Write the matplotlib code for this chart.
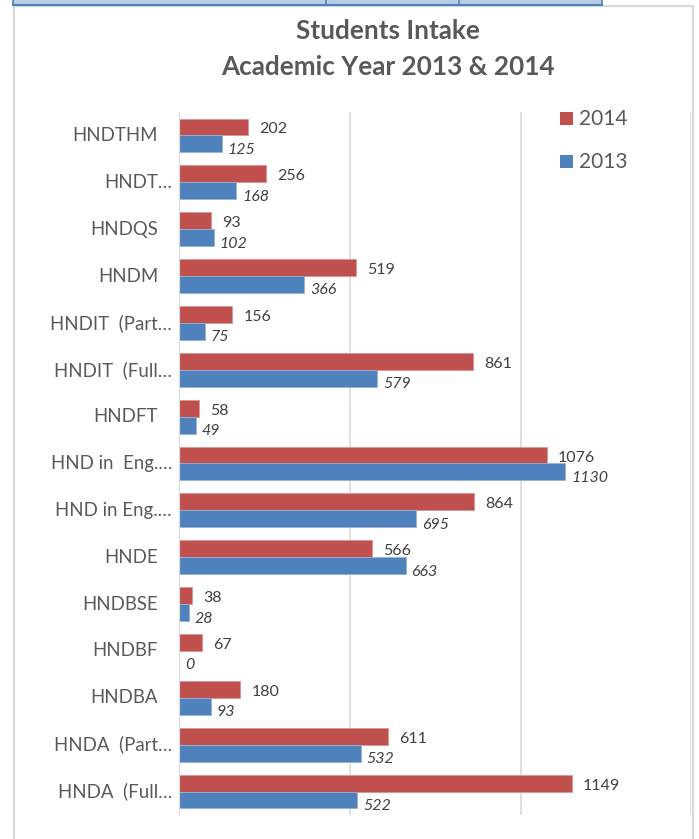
import matplotlib
matplotlib.use("Agg")
import matplotlib.pyplot as plt
import matplotlib.transforms as mtransforms
from matplotlib.patches import Rectangle
from matplotlib.lines import Line2D

# Data (bottom-to-top order as drawn)
categories = ["HNDA  (Full…", "HNDA  (Part…", "HNDBA", "HNDBF", "HNDBSE", "HNDE",
              "HND in Eng.…", "HND in  Eng.…", "HNDFT", "HNDIT  (Full…",
              "HNDIT  (Part…", "HNDM", "HNDQS", "HNDT…", "HNDTHM"]
truncated = [c.endswith("…") for c in categories]
values_2014 = [1149, 611, 180, 67, 38, 566, 864, 1076, 58, 861, 156, 519, 93, 256, 202]
values_2013 = [522, 532, 93, 0, 28, 663, 695, 1130, 49, 579, 75, 366, 102, 168, 125]
series_names = ["2014", "2013"]

RED = "#c0504d"
BLUE = "#4f81bd"
TXT = "#595959"
LBL = "#404040"
GRID = "#d9d9d9"

plt.rcParams['font.family'] = ['Lato', 'DejaVu Sans']

W, H = 699, 839
fig = plt.figure(figsize=(W / 100, H / 100), dpi=100)

# table fragment at top
fig.patches.append(Rectangle((13 / W, 1 - 4.5 / H), (602 - 13) / W, 4.5 / H,
                             transform=fig.transFigure, facecolor="#b8cce4",
                             edgecolor="none"))
fig.lines.append(Line2D([13 / W, 602 / W], [1 - 4.5 / H, 1 - 4.5 / H],
                        transform=fig.transFigure, color="#4f81bd", lw=1.5))
for xx in [13, 326, 459, 602]:
    fig.lines.append(Line2D([xx / W, xx / W], [1 - 4.5 / H, 1.0],
                            transform=fig.transFigure, color="#4f81bd", lw=1.2))
# chart frame
fig.patches.append(Rectangle((13.5 / W, -0.01), (693 - 13.5) / W, 1 - 6 / H + 0.01,
                             transform=fig.transFigure, facecolor="none",
                             edgecolor=GRID, lw=1.6))

left, right = 179, 691.5
top, bottom = 112, 815
ax = fig.add_axes([left / W, 1 - bottom / H, (right - left) / W, (bottom - top) / H])
ax.set_facecolor("none")
ax.set_zorder(2)

n = len(categories)
y = list(range(n))
h = 0.36
ax.barh([i + h / 2 for i in y], values_2014, height=h, color=RED,
        edgecolor="#d99594", linewidth=0.6, label=series_names[0], zorder=3)
ax.barh([i - h / 2 for i in y], values_2013, height=h, color=BLUE,
        edgecolor="#95b3d7", linewidth=0.6, label=series_names[1], zorder=3)

ax.set_xlim(0, 1500)
ax.set_ylim(-0.5, n - 0.5)
ax.set_xticks([0, 500, 1000, 1500])
ax.xaxis.grid(True, color=GRID, lw=1.2)
ax.set_axisbelow(True)
ax.tick_params(axis='x', length=0, labelbottom=False)
ax.tick_params(axis='y', length=0, labelleft=False)
for s in ax.spines.values():
    s.set_visible(False)
ax.axvline(0, color=GRID, lw=1.6, zorder=4)

# data labels
off14 = mtransforms.ScaledTranslation(11 / 100, -2.5 / 100, fig.dpi_scale_trans)
off13 = mtransforms.ScaledTranslation(6 / 100, -6 / 100, fig.dpi_scale_trans)
for i in y:
    ax.text(values_2014[i], i + h / 2, str(values_2014[i]), transform=ax.transData + off14,
            ha='left', va='center', fontsize=11.5, color=LBL)
    ax.text(values_2013[i], i - h / 2, str(values_2013[i]), transform=ax.transData + off13,
            ha='left', va='center', fontsize=11.5, color=LBL, style='italic')

# category labels
trans = mtransforms.blended_transform_factory(fig.transFigure, ax.transData)
for i, c in enumerate(categories):
    xr = 172 if truncated[i] else 158
    ax.text(xr / W, i, c, transform=trans, ha='right', va='center',
            fontsize=13.4, color=TXT, clip_on=False)

# title
fig.text(388 / W, 1 - 31 / H, "Students Intake", ha='center', va='center',
         fontsize=18.8, fontweight='bold', color=TXT)
fig.text(388 / W, 1 - 67 / H, "Academic Year 2013 & 2014", ha='center', va='center',
         fontsize=18.8, fontweight='bold', color=TXT)

# legend
for name, col, yy in [(series_names[0], RED, 119), (series_names[1], BLUE, 162)]:
    fig.patches.append(Rectangle((560 / W, 1 - (yy + 6) / H), 13 / W, 13 / H,
                                 transform=fig.transFigure, facecolor=col, edgecolor='none'))
    fig.text(579 / W, 1 - yy / H, name, ha='left', va='center', fontsize=15, color=TXT)

fig.savefig("out.png", dpi=100)
